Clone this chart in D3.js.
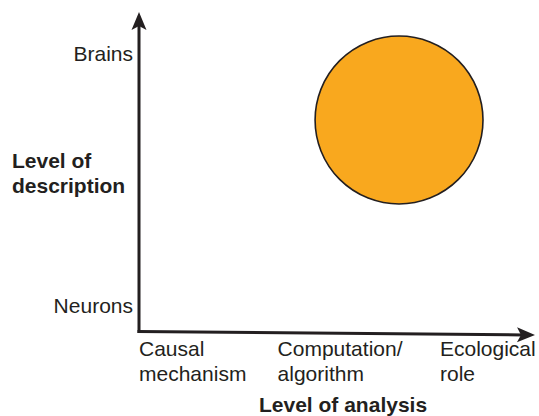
<!DOCTYPE html>
<html>
<head>
<meta charset="utf-8">
<script src="https://cdn.jsdelivr.net/npm/d3@7"></script>
<style>
  html, body { margin: 0; padding: 0; background: #fff; }
  svg { display: block; }
  text { font-family: "Liberation Sans", Arial, Helvetica, sans-serif; fill: #231f20; }
</style>
</head>
<body>
<div id="chart"></div>
<script>
// ---- data ----
const xCategories = [["Causal", "mechanism"], ["Computation/", "algorithm"], ["Ecological", "role"]];
const xCategoryValues = [0, 1.05, 2.28];
const yCategories = ["Neurons", "Brains"];
const yCategoryValues = [0, 1];
const xTitle = "Level of analysis";
const yTitle = ["Level of", "description"];
const points = [{ x: 1.97, y: 0.738, r: 0.636 }];

// ---- layout ----
const W = 539, H = 416;
const svg = d3.select("#chart").append("svg").attr("width", W).attr("height", H);

const x = d3.scaleLinear().domain([0, 3]).range([139, 535]);
const y = d3.scaleLinear().domain([0, 1]).range([306, 54]);

const axisColor = "#231f20";

// axes with arrowheads
function arrowHead(tx, ty, angle) {
  const len = 18, half = 7.5, notch = 4;
  const pts = [[0, 0], [-len, -half], [-len + notch, 0], [-len, half]];
  const c = Math.cos(angle), s = Math.sin(angle);
  const p = pts.map(([a, b]) => [tx + a * c - b * s, ty + a * s + b * c]);
  return "M" + p.map(d => d.join(",")).join("L") + "Z";
}

const origin = [x(0), 331.5];
const yTip = [x(0), 12];
const xTip = [x(3), 335];

// y axis line
svg.append("line")
  .attr("x1", origin[0]).attr("y1", origin[1] + 1.5)
  .attr("x2", yTip[0]).attr("y2", yTip[1] + 12)
  .attr("stroke", axisColor).attr("stroke-width", 3);
svg.append("path")
  .attr("d", arrowHead(yTip[0], yTip[1], -Math.PI / 2))
  .attr("fill", axisColor);

// x axis line
const ang = Math.atan2(xTip[1] - origin[1], xTip[0] - origin[0]);
svg.append("line")
  .attr("x1", origin[0] - 1.5).attr("y1", origin[1])
  .attr("x2", xTip[0] - 12 * Math.cos(ang)).attr("y2", xTip[1] - 12 * Math.sin(ang))
  .attr("stroke", axisColor).attr("stroke-width", 3);
svg.append("path")
  .attr("d", arrowHead(xTip[0], xTip[1], ang))
  .attr("fill", axisColor);

// circle
svg.selectAll("circle.pt").data(points).enter().append("circle")
  .attr("class", "pt")
  .attr("cx", d => x(d.x))
  .attr("cy", d => y(d.y))
  .attr("r", d => x(d.r) - x(0))
  .attr("fill", "#f9a81e")
  .attr("stroke", "#231f20")
  .attr("stroke-width", 1.6);

// y category labels
svg.selectAll("text.ycat").data(yCategories).enter().append("text")
  .attr("class", "ycat")
  .attr("x", 133)
  .attr("y", (d, i) => y(yCategoryValues[i]))
  .attr("dy", "0.35em")
  .attr("text-anchor", "end")
  .style("font-size", "21px")
  .text(d => d);

// x category labels
const xl = svg.selectAll("text.xcat").data(xCategories).enter().append("text")
  .attr("class", "xcat")
  .attr("x", (d, i) => x(xCategoryValues[i]))
  .attr("y", 356)
  .style("font-size", "21px");
xl.selectAll("tspan").data(d => d).enter().append("tspan")
  .attr("x", function () { return d3.select(this.parentNode).attr("x"); })
  .attr("dy", (d, i) => i === 0 ? 0 : 24.5)
  .text(d => d);

// axis titles
svg.append("text")
  .attr("x", 259).attr("y", 412)
  .style("font-size", "21px").style("font-weight", "bold")
  .text(xTitle);

const yt = svg.append("text")
  .attr("x", 12).attr("y", 168)
  .style("font-size", "21px").style("font-weight", "bold");
yt.selectAll("tspan").data(yTitle).enter().append("tspan")
  .attr("x", 12)
  .attr("dy", (d, i) => i === 0 ? 0 : 25)
  .text(d => d);
</script>
</body>
</html>
